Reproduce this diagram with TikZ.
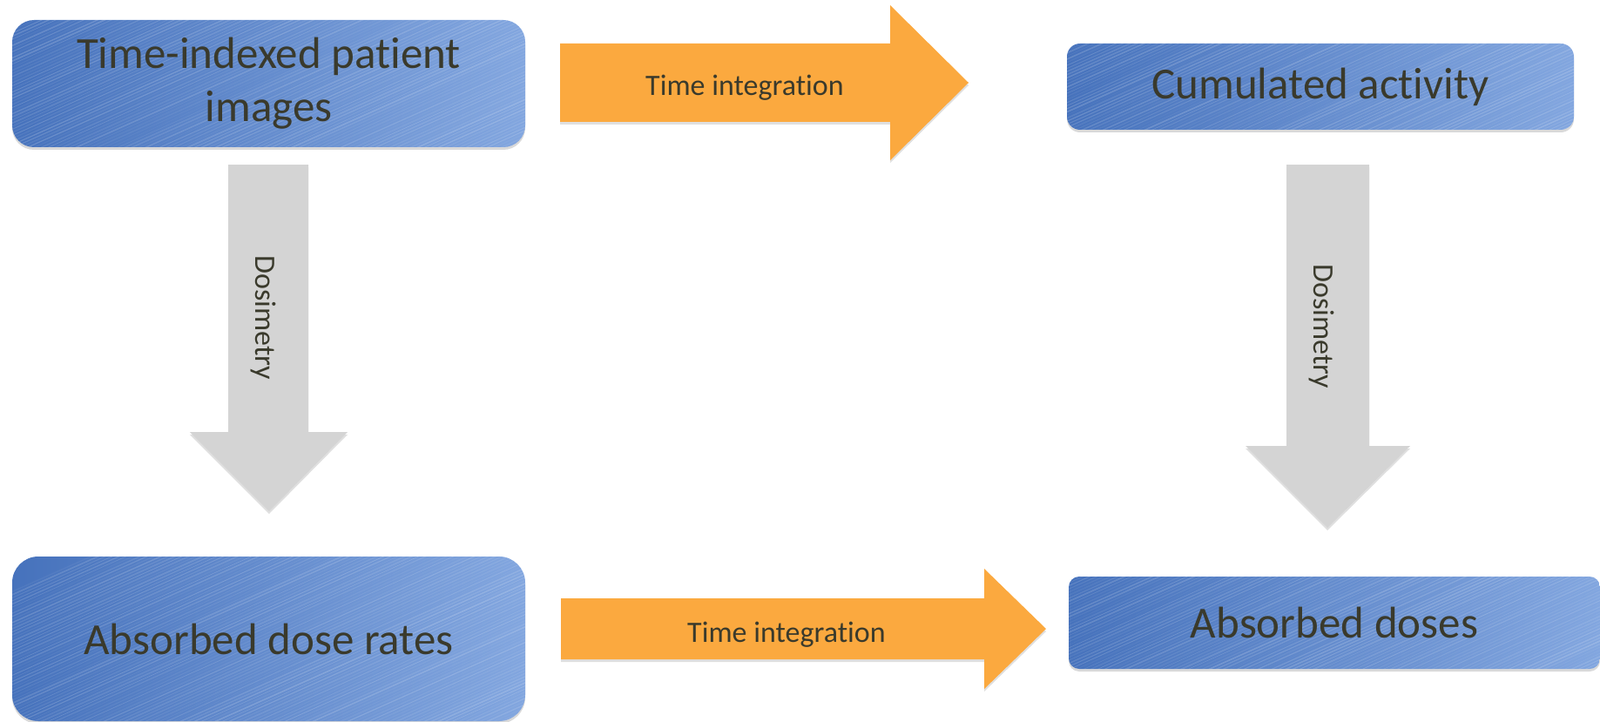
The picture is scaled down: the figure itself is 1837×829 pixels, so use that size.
\documentclass[tikz,border=0pt]{standalone}
\usepackage{fontspec}
\setmainfont{Carlito}[Ligatures=NoCommon]
\usetikzlibrary{shadows, positioning}

\definecolor{boxleft}{HTML}{4672BC}
\definecolor{boxright}{HTML}{82A6DF}
\definecolor{flowtext}{HTML}{3A3A2C}
\definecolor{integorange}{HTML}{FBA93F}
\definecolor{dosegray}{HTML}{D4D4D4}

\tikzset{
  stagebox/.style={rectangle, rounded corners=#1, left color=boxleft, right color=boxright,
    text=flowtext, font=\fontsize{25.5}{30.5}\selectfont, align=center, inner sep=0pt,
    drop shadow={opacity=0.3, shadow xshift=0pt, shadow yshift=-1.5pt},
    path picture={\foreach \k in {1,...,125}
      \draw[white, opacity={0.04+0.14*rnd}, line width={0.3pt+0.6pt*rnd}]
        ([xshift=\k*4pt-180pt, yshift=-4pt]path picture bounding box.south west) -- ++(24:420pt);}},
  stagebox/.default=8pt,
  integarrow/.style={fill=integorange, drop shadow={opacity=0.25, shadow xshift=0pt, shadow yshift=-1.5pt}},
  dosearrow/.style={fill=dosegray, drop shadow={opacity=0.25, shadow xshift=0pt, shadow yshift=-1.5pt}},
  steplabel/.style={text=flowtext, font=\fontsize{17}{20}\selectfont, inner sep=0pt}
}

\begin{document}
\begin{tikzpicture}[x=0.5pt, y=-0.5pt]
  \useasboundingbox (0,0) rectangle (1837,829);

  % stages
  \node[stagebox=12.5pt, minimum width=294.5pt, minimum height=73pt] (images) at (308.5,96) {Time-indexed patient\\images};
  \node[stagebox=7.5pt, minimum width=291pt, minimum height=49.5pt] (cumact) at (1516,99.5) {Cumulated activity};
  \node[stagebox=15pt, minimum width=294.5pt, minimum height=94.5pt] (doserates) at (308.5,733.5) {Absorbed dose rates};
  \node[stagebox=6pt, minimum width=305pt, minimum height=53pt] (doses) at (1532,715) {Absorbed doses};

  % time integration
  \fill[integarrow] (643,50) -- (1022,50) -- (1022,6) -- (1112,95) -- (1022,184) -- (1022,140) -- (643,140) -- cycle;
  \node[steplabel, anchor=base] (integtop) at (855,110) {Time integration};
  \fill[integarrow] (644,687) -- (1130,687) -- (1130,653) -- (1201,722) -- (1130,791) -- (1130,757) -- (644,757) -- cycle;
  \node[steplabel, anchor=base] (integbot) at (903,737) {Time integration};

  % dosimetry
  \fill[dosearrow] (262,189) -- (354,189) -- (354,496) -- (399,496) -- (309,587) -- (218,496) -- (262,496) -- cycle;
  \node[steplabel, rotate=-90] (dosileft) at (302,365) {Dosimetry};
  \fill[dosearrow] (1477,189) -- (1572,189) -- (1572,512) -- (1619,512) -- (1524,606) -- (1430,512) -- (1477,512) -- cycle;
  \node[steplabel, rotate=-90] (dosiright) at (1517,375) {Dosimetry};
\end{tikzpicture}
\end{document}
